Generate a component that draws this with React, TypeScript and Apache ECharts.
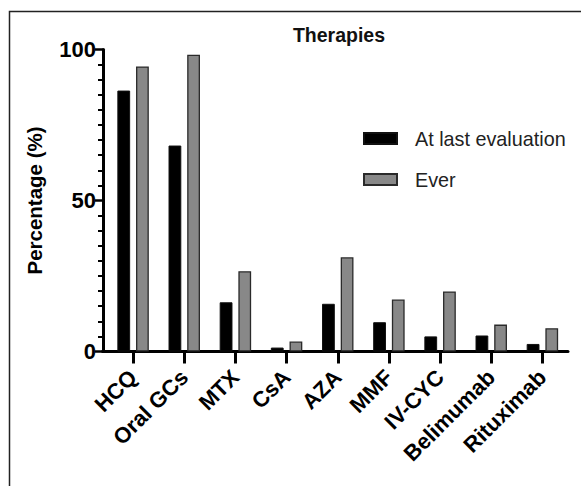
import React, { useEffect, useRef } from "react";
import * as echarts from "echarts";

const categories = ["HCQ", "Oral GCs", "MTX", "CsA", "AZA", "MMF", "IV-CYC", "Belimumab", "Rituximab"];
const lastEvaluation = [86.4, 68.2, 16.3, 1.3, 15.8, 9.7, 5.0, 5.3, 2.5];
const ever = [94.4, 98.3, 26.6, 3.3, 31.2, 17.2, 19.9, 8.9, 7.7];
const seriesNames = ["At last evaluation", "Ever"];
const yTicks = { min: 0, max: 100, interval: 50 };

const FONT = "'Liberation Sans', Arial, Helvetica, sans-serif";

export default function App() {
  const ref = useRef<HTMLDivElement>(null);
  useEffect(() => {
    if (!ref.current) return;
    const chart = echarts.init(ref.current, null, { renderer: "svg" });
    chart.setOption({
      animation: false,
      backgroundColor: "#ffffff",
      title: {
        text: "Therapies",
        left: 339,
        top: 25,
        textAlign: "center",
        padding: 0,
        textStyle: { fontFamily: FONT, fontSize: 19.5, fontWeight: "bold", color: "#111" },
      },
      legend: {
        orient: "vertical",
        left: 363,
        top: 128,
        padding: 0,
        itemWidth: 33,
        itemHeight: 11,
        itemGap: 20,
        icon: "rect",
        textStyle: { fontFamily: FONT, fontSize: 19.8, color: "#222", padding: [0, 0, 0, 13], lineHeight: 21 },
        data: seriesNames,
      },
      grid: { left: 107.5, right: 13, top: 49.5, bottom: 134.5, containLabel: false },
      xAxis: {
        type: "category",
        data: categories,
        axisLine: { show: true, lineStyle: { color: "#000", width: 3 } },
        axisTick: { show: true, alignWithLabel: true, length: 12, lineStyle: { color: "#000", width: 3 } },
        axisLabel: {
          interval: 0,
          rotate: 45,
          margin: 22,
          fontFamily: FONT,
          fontSize: 22,
          fontWeight: "bold",
          color: "#000",
        },
      },
      yAxis: {
        type: "value",
        min: yTicks.min,
        max: yTicks.max,
        interval: yTicks.interval,
        offset: 4.5,
        name: "Percentage (%)",
        nameLocation: "middle",
        nameRotate: 90,
        nameGap: 58,
        nameTextStyle: { fontFamily: FONT, fontSize: 20.5, fontWeight: "bold", color: "#000" },
        axisLine: { show: true, lineStyle: { color: "#000", width: 3 } },
        axisTick: { show: true, length: 8, lineStyle: { color: "#000", width: 2.5 } },
        minorTick: { show: true, splitNumber: 10, length: 5, lineStyle: { color: "#000", width: 2 } },
        splitLine: { show: false },
        axisLabel: { margin: 7, fontFamily: FONT, fontSize: 22, fontWeight: "bold", color: "#000" },
      },
      graphic: [
        {
          type: "rect",
          shape: { x: 9.5, y: 11.5, width: 700, height: 600 },
          style: { fill: "none", stroke: "#222", lineWidth: 1.5 },
          silent: true,
        },
        {
          type: "line",
          shape: { x1: 101.5, y1: 351.5, x2: 109, y2: 351.5 },
          style: { stroke: "#000", lineWidth: 3 },
          silent: true,
        },
      ],
      series: [
        {
          name: seriesNames[0],
          type: "bar",
          data: lastEvaluation,
          barWidth: "25%",
          barGap: "46%",
          itemStyle: { color: "#000", borderColor: "#111", borderWidth: 1 },
        },
        {
          name: seriesNames[1],
          type: "bar",
          data: ever,
          barWidth: "25%",
          itemStyle: { color: "#888888", borderColor: "#2a2a2a", borderWidth: 1.3 },
        },
      ],
    });
    return () => chart.dispose();
  }, []);
  return <div ref={ref} style={{ position: "absolute", left: 0, top: 0, width: 581, height: 486 }} />;
}
